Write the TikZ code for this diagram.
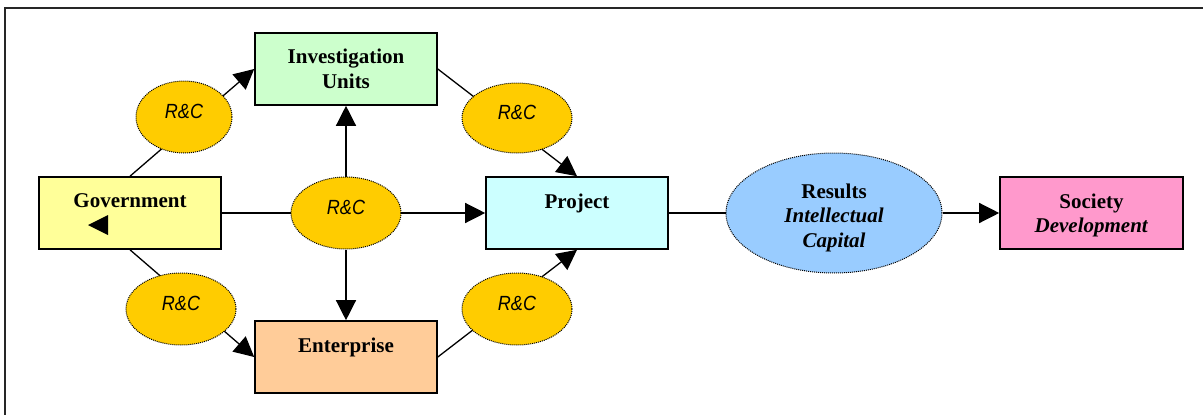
\documentclass[tikz,border=0pt]{standalone}
\usepackage{fontspec}
\setmainfont{Liberation Serif}
\newfontfamily\rcfont[FakeStretch=0.88]{Liberation Sans}
\usetikzlibrary{shapes.geometric,arrows.meta}
\definecolor{cinv}{HTML}{CCFFCC}
\definecolor{cgov}{HTML}{FFFF99}
\definecolor{cent}{HTML}{FFCC99}
\definecolor{cproj}{HTML}{CCFFFF}
\definecolor{csoc}{HTML}{FF99CC}
\definecolor{cres}{HTML}{99CCFF}
\definecolor{crc}{HTML}{FFCC00}
\tikzset{
  box/.style={draw=black, line width=1.6pt, minimum width=182pt, minimum height=72pt,
    inner sep=0pt, align=center, font=\fontsize{21}{24.5}\selectfont\bfseries},
  rcell/.style={ellipse, draw=black, densely dotted, line width=1pt, fill=crc, inner sep=0pt,
    minimum width=110pt, minimum height=72pt, text depth=11pt,
    font=\rcfont\itshape\fontsize{20.5}{22}\selectfont},
  resell/.style={ellipse, draw=black, densely dotted, line width=1pt, fill=cres, inner sep=0pt,
    minimum width=216pt, minimum height=120pt, align=center, font=\fontsize{21}{24.5}\selectfont\bfseries},
  conn/.style={line width=1.3pt, draw=black},
  arr/.style={conn, -{Triangle[length=20pt,width=20pt]}},
  frameline/.style={line width=1.5pt, draw=black!85}
}
\begin{document}
\begin{tikzpicture}[x=1pt,y=-1pt]
\useasboundingbox (0,0) rectangle (1203,415);
\coordinate (fA) at (5,416);
\coordinate (fB) at (5,8);
\coordinate (fC) at (1204,8);
\draw[frameline] (fA) -- (fB) -- (fC);

\node[box, fill=cinv] (inv) at (346,69) {Investigation\\Units};
\node[box, fill=cgov] (gov) at (130,213) {Government\\\mbox{}};
\node[box, fill=cent] (ent) at (346,357) {Enterprise\\\mbox{}};
\node[box, fill=cproj] (proj) at (577,213) {Project\\\mbox{}};
\node[box, fill=csoc, minimum width=183pt] (soc) at (1091.5,213) {\rule{0pt}{19pt}Society\\\textit{Development}};

\coordinate (tri) at (108,215);
\fill[black] (tri) -- ++(0,20) -- ++(-20,-10) -- cycle;

\draw[arr] (gov.north) -- (inv.west);
\draw[arr] (gov.south) -- (ent.west);
\draw[arr] (gov.east) -- (proj.west);
\draw[arr] (inv.east) -- (proj.north);
\draw[arr] (ent.east) -- (proj.south);

\node[rcell, minimum width=96pt] (rc1) at (184,117) {R\&C};
\node[rcell] (rc3) at (181,309) {R\&C};
\node[rcell] (rc2) at (346,213) {R\&C};
\node[rcell, minimum height=70pt] (rc4) at (517,118) {R\&C};
\node[rcell] (rc5) at (517,309) {R\&C};

\draw[arr] (rc2.north) -- (inv.south);
\draw[arr] (rc2.south) -- (ent.north);

\node[resell] (res) at (834,213) {\rule{0pt}{23.5pt}Results\\\textit{Intellectual}\\\textit{Capital}};
\draw[conn] (proj.east) -- (res.west);
\draw[arr] (res.east) -- (soc.west);
\end{tikzpicture}
\end{document}
